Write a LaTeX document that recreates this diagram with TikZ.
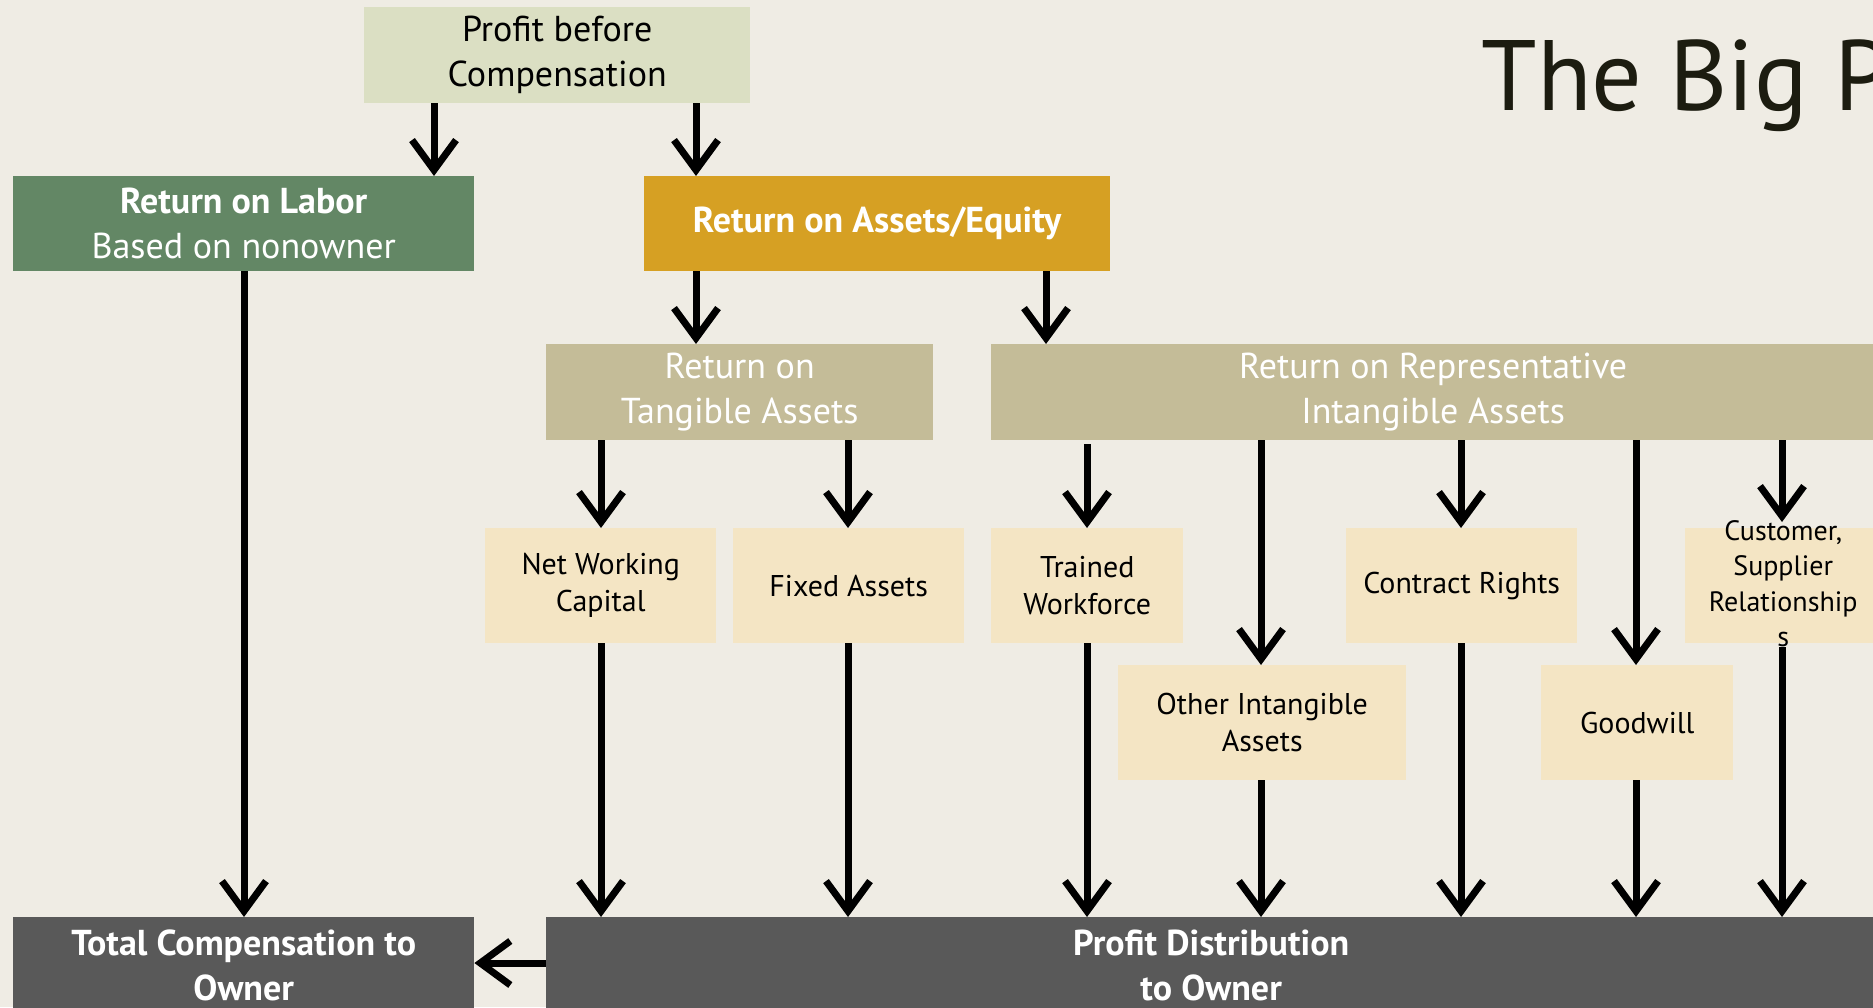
\documentclass[tikz,border=0pt]{standalone}
\usepackage{fontspec}
\setmainfont{PT Sans}
\usetikzlibrary{arrows.meta}
\definecolor{bgc}{HTML}{EFECE4}
\definecolor{profc}{HTML}{DBDFC3}
\definecolor{laborc}{HTML}{638765}
\definecolor{assetc}{HTML}{D6A023}
\definecolor{khakic}{HTML}{C4BC98}
\definecolor{leafc}{HTML}{F4E5C4}
\definecolor{grayc}{HTML}{595959}
\definecolor{titlec}{HTML}{1C1C10}
\tikzset{
  box/.style={anchor=north west, inner sep=0pt, align=center, draw=none},
  topbox/.style={box, font=\fontsize{36}{45}\selectfont},
  leafbox/.style={box, fill=leafc, text=black, font=\fontsize{30}{37}\selectfont, minimum width=231pt, minimum height=115pt},
  arr/.style={line width=7pt, -{Straight Barb[length=30pt,width=44pt,line width=7pt]}},
}
\begin{document}
\begin{tikzpicture}[x=1pt,y=-1pt]
\useasboundingbox (0,0) rectangle (1873,1007);
\clip (0,0) rectangle (1873,1007);
\fill[bgc] (0,0) rectangle (1873,1007);
\node[anchor=base west, text=titlec, font=\fontsize{100}{110}\selectfont] (title) at (1478,110) {The Big Picture};
% top level
\node[topbox, fill=profc, text=black, minimum width=386pt, minimum height=96pt] (prof) at (364,7) {Profit before\\Compensation};
\node[topbox, fill=laborc, text=white, minimum width=461pt, minimum height=95pt] (labor) at (13,176) {\textbf{Return on Labor}\\Based on nonowner};
\node[topbox, fill=assetc, text=white, minimum width=466pt, minimum height=95pt] (assets) at (644,176) {\textbf{Return on Assets/Equity}};
\node[topbox, fill=khakic, text=white, minimum width=387pt, minimum height=96pt] (tang) at (546,344) {Return on\\Tangible Assets};
\node[topbox, fill=khakic, text=white, minimum width=884pt, minimum height=96pt] (intang) at (991,344) {Return on Representative\\Intangible Assets};
% leaves
\node[leafbox] (nwc) at (485,528) {Net Working\\Capital};
\node[leafbox] (fixed) at (733,528) {Fixed Assets};
\node[leafbox, minimum width=192pt] (trained) at (991,528) {Trained\\Workforce};
\node[leafbox, minimum width=288pt] (other) at (1118,665) {Other Intangible\\Assets};
\node[leafbox] (contract) at (1346,528) {Contract Rights};
\node[leafbox, minimum width=192pt] (goodwill) at (1541,665) {Goodwill};
\node[leafbox, minimum width=196pt] (cust) at (1685,528) {};
\node[anchor=center, align=center, inner sep=0pt, text=black, font=\fontsize{28}{35.5}\selectfont] (custtxt) at ([yshift=2pt]cust.center) {Customer,\\Supplier\\Relationship\\s};
% bottom
\node[topbox, fill=grayc, text=white, minimum width=461pt, minimum height=96pt] (total) at (13,917) {\textbf{Total Compensation to}\\\textbf{Owner}};
\node[topbox, fill=grayc, text=white, minimum width=1330pt, minimum height=96pt] (dist) at (546,917) {\textbf{Profit Distribution}\\\textbf{to Owner}};
% arrows
\draw[arr] (prof.south -| 434,0) -- (labor.north -| 434,0);
\draw[arr] (prof.south -| 696,0) -- (assets.north -| 696,0);
\draw[arr] (labor.south -| 244,0) -- (total.north -| 244,0);
\draw[arr] (assets.south -| 696,0) -- (tang.north -| 696,0);
\draw[arr] (assets.south -| 1046,0) -- (intang.north -| 1046,0);
\draw[arr] (tang.south -| 601,0) -- (nwc.north -| 601,0);
\draw[arr] (tang.south -| 848,0) -- (fixed.north -| 848,0);
\draw[arr] ([yshift=-4pt]intang.south -| 1087,0) -- (trained.north -| 1087,0);
\draw[arr] (intang.south -| 1261,0) -- (other.north -| 1261,0);
\draw[arr] (intang.south -| 1461,0) -- (contract.north -| 1461,0);
\draw[arr] (intang.south -| 1636,0) -- (goodwill.north -| 1636,0);
\draw[arr] (intang.south -| 1782,0) -- ([yshift=6pt]cust.north -| 1782,0);
\draw[arr] (nwc.south -| 601,0) -- (dist.north -| 601,0);
\draw[arr] (fixed.south -| 848,0) -- (dist.north -| 848,0);
\draw[arr] (trained.south -| 1087,0) -- (dist.north -| 1087,0);
\draw[arr] (other.south -| 1261,0) -- (dist.north -| 1261,0);
\draw[arr] (contract.south -| 1461,0) -- (dist.north -| 1461,0);
\draw[arr] (goodwill.south -| 1636,0) -- (dist.north -| 1636,0);
\draw[arr] (custtxt.south -| 1782,0) -- (dist.north -| 1782,0);
\draw[arr] (dist.west |- 0,963) -- (total.east |- 0,963);
\end{tikzpicture}
\end{document}
